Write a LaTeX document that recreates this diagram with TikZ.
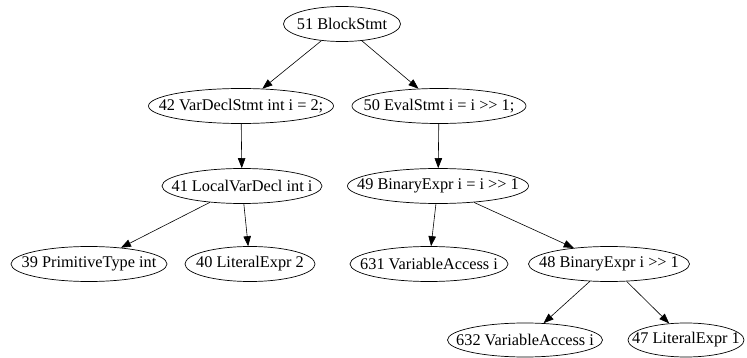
\documentclass[tikz,border=0pt]{standalone}
\usepackage{fontspec}
\setmainfont{Liberation Serif}
\usepackage{tikz}
\usetikzlibrary{arrows.meta,positioning,shapes.geometric}
\tikzset{
  ast/node/.style={draw, ellipse, line width=0.7pt, inner xsep=-25pt, inner ysep=-6pt, minimum height=35pt, font=\fontsize{16.3}{18}\selectfont},
  ast/edge/.style={line width=0.6pt, -{Triangle[length=10pt,width=7.5pt]}}
}
\begin{document}
\begin{tikzpicture}[x=1pt,y=-1pt]
  \useasboundingbox (0,0) rectangle (747,358);
  \node[ast/node, minimum width=117pt] (blk) at (342,24) {51 BlockStmt};
  \node[ast/node, minimum width=185pt] (vardecl) at (241,106) {42 VarDeclStmt int i = 2;};
  \node[ast/node, minimum width=174pt] (eval) at (439,106) {50 EvalStmt i = i >{}> 1;};
  \node[ast/node, minimum width=160pt] (local) at (242,186) {41 LocalVarDecl int i};
  \node[ast/node, minimum width=181pt] (bin) at (438,186) {49 BinaryExpr i = i >{}> 1};
  \node[ast/node, minimum width=156pt] (prim) at (89,264) {39 PrimitiveType int};
  \node[ast/node, minimum width=130pt] (lit2) at (250,264) {40 LiteralExpr 2};
  \node[ast/node, minimum width=158pt] (var1) at (429,264) {631 VariableAccess i};
  \node[ast/node, minimum width=161pt] (shift) at (609,264) {48 BinaryExpr i >{}> 1};
  \node[ast/node, minimum width=155pt, minimum height=34pt] (var2) at (525,340) {632 VariableAccess i};
  \node[ast/node, minimum width=116pt, minimum height=34pt] (lit1) at (686,340) {47 LiteralExpr 1};

  \draw[ast/edge] (blk) -- (vardecl);
  \draw[ast/edge] (blk) -- (eval);
  \draw[ast/edge] (vardecl) -- (local);
  \draw[ast/edge] (eval) -- (bin);
  \draw[ast/edge] (local) -- (prim);
  \draw[ast/edge] (local) -- (lit2);
  \draw[ast/edge] (bin) -- (var1);
  \draw[ast/edge] (bin) -- (shift);
  \draw[ast/edge] (shift) -- (var2);
  \draw[ast/edge] (shift) -- (lit1);
\end{tikzpicture}
\end{document}
